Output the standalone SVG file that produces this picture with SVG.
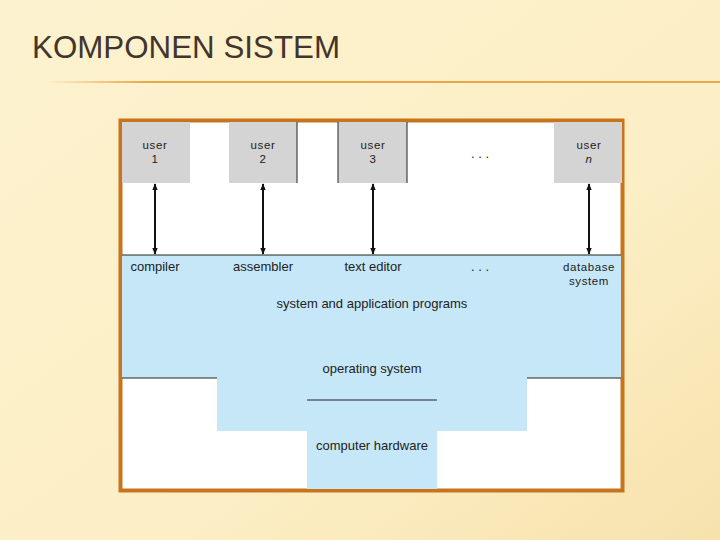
<svg xmlns="http://www.w3.org/2000/svg" width="720" height="540" viewBox="0 0 720 540">
<defs>
<linearGradient id="bg" x1="0" y1="0" x2="1" y2="1">
<stop offset="0" stop-color="#fdf2cf"/>
<stop offset="0.6" stop-color="#fcefc6"/>
<stop offset="1" stop-color="#f7e2ad"/>
</linearGradient>
<linearGradient id="rule" x1="0" y1="0" x2="1" y2="0">
<stop offset="0" stop-color="#e8a94a" stop-opacity="0"/>
<stop offset="0.15" stop-color="#e8a94a"/>
<stop offset="1" stop-color="#e9a84a"/>
</linearGradient>
<marker id="ah" viewBox="0 0 10 10" refX="9" refY="5" markerWidth="7" markerHeight="7" orient="auto-start-reverse" markerUnits="userSpaceOnUse">
<path d="M0,1 L10,5 L0,9 z" fill="#111"/>
</marker>
<style>
.t{font-family:"Liberation Sans",Arial,sans-serif;font-size:13px;fill:#222;text-anchor:middle}
.s{font-size:11.5px;letter-spacing:0.6px}
.user{fill:#d4d4d4}
.edge{stroke:#222;stroke-width:1}
.arr{stroke:#111;stroke-width:2;marker-start:url(#ah);marker-end:url(#ah)}
.blue{fill:#c6e7f8}
</style>
</defs>
<rect width="720" height="540" fill="url(#bg)"/>
<text x="32" y="58" font-family="'Liberation Sans',Arial,sans-serif" font-size="31" fill="#43352a" textLength="308" lengthAdjust="spacingAndGlyphs">KOMPONEN SISTEM</text>
<rect x="45" y="81" width="675" height="2" fill="url(#rule)"/>

<rect x="120.5" y="120.5" width="502" height="370" fill="#ffffff" stroke="#c8741c" stroke-width="4"/>

<g id="software">
<path class="blue" d="M122,255 H621 V378 H527 V431 H437 V489 H307 V431 H217 V378 H122 Z"/>
<line class="edge" x1="122" y1="255" x2="621" y2="255"/>
<line class="edge" x1="122" y1="378" x2="217" y2="378"/>
<line class="edge" x1="527" y1="378" x2="621" y2="378"/>
<line class="edge" x1="307" y1="400" x2="437" y2="400"/>
<text class="t" x="155" y="271">compiler</text>
<text class="t" x="263" y="271">assembler</text>
<text class="t" x="373" y="271">text editor</text>
<text class="t" x="480" y="271">. . .</text>
<text class="t s" x="589" y="270.5">database</text>
<text class="t s" x="589" y="284.5">system</text>
</g>
<g id="apps"><text class="t" x="372" y="308">system and application programs</text></g>
<g id="os"><text class="t" x="372" y="373">operating system</text></g>
<g id="hw"><text class="t" x="372" y="450">computer hardware</text></g>

<g id="user1"><rect class="user" x="122" y="122" width="68" height="61"/><text class="t s" x="155" y="148.5">user</text><text class="t s" x="155" y="162.5">1</text></g>
<g id="user2"><rect class="user" x="229" y="122" width="68" height="61"/><line class="edge" x1="297" y1="122" x2="297" y2="183"/><text class="t s" x="263" y="148.5">user</text><text class="t s" x="263" y="162.5">2</text></g>
<g id="user3"><rect class="user" x="338" y="122" width="69" height="61"/><line class="edge" x1="338" y1="122" x2="338" y2="183"/><line class="edge" x1="407" y1="122" x2="407" y2="183"/><text class="t s" x="373" y="148.5">user</text><text class="t s" x="373" y="162.5">3</text></g>
<g id="dots"><text class="t" x="480" y="158">. . .</text></g>
<g id="usern"><rect class="user" x="554" y="122" width="68" height="61"/><text class="t s" x="589" y="148.5">user</text><text class="t s" x="589" y="162.5" font-style="italic">n</text></g>

<g id="connectors">
<line class="arr" x1="155" y1="184" x2="155" y2="254"/>
<line class="arr" x1="263" y1="184" x2="263" y2="254"/>
<line class="arr" x1="373" y1="184" x2="373" y2="254"/>
<line class="arr" x1="589" y1="184" x2="589" y2="254"/>
</g>
</svg>
